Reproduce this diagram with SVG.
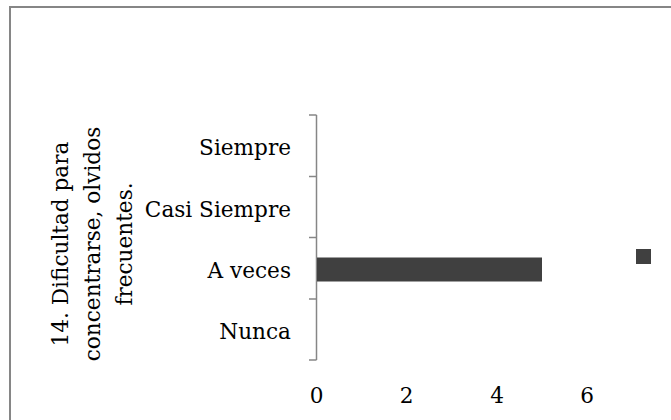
<svg xmlns="http://www.w3.org/2000/svg" width="671" height="420" viewBox="0 0 671 420">
<style>
text{font-family:"DejaVu Serif","Liberation Serif",serif;font-size:21.6px;fill:#000}
.cat{text-anchor:end}
.num{text-anchor:middle}
.ax{stroke:#868686;stroke-width:1.5;fill:none}
</style>
<rect width="671" height="420" fill="#fff"/>
<g id="frame"><path d="M10,430 V7 H680" fill="none" stroke="#868686" stroke-width="2"/></g>
<g id="axes">
<path class="ax" d="M316.5,115 V360"/>
<path class="ax" d="M309,115 H316.5 M309,176.5 H316.5 M309,237.5 H316.5 M309,299 H316.5 M309,360 H316.5"/>
</g>
<g id="bar"><rect x="317" y="257.5" width="225" height="24" fill="#404040"/></g>
<g id="legend"><rect x="636" y="249" width="15" height="15" fill="#404040"/></g>
<g id="labels">
<text class="cat" x="291" y="155">Siempre</text>
<text class="cat" x="291" y="217">Casi Siempre</text>
<text class="cat" x="291" y="278">A veces</text>
<text class="cat" x="291" y="339">Nunca</text>
<text class="num" x="316.5" y="403">0</text>
<text class="num" x="406.5" y="403">2</text>
<text class="num" x="497" y="403">4</text>
<text class="num" x="587" y="403">6</text>
</g>
<g id="title" transform="translate(0,244) rotate(-90)">
<text class="num" x="0" y="68">14. Dificultad para</text>
<text class="num" x="0" y="100">concentrarse, olvidos</text>
<text class="num" x="0" y="132">frecuentes.</text>
</g>
</svg>
